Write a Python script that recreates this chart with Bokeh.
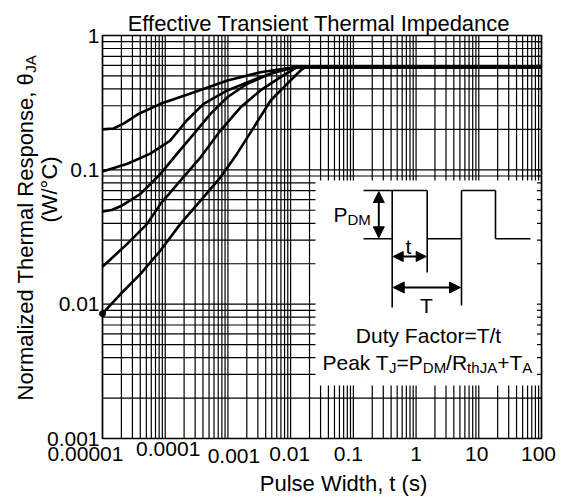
import math
from bokeh.plotting import figure
from bokeh.models import Arrow, NormalHead
from bokeh.core.properties import value
from bokeh.embed import file_html
from bokeh.resources import INLINE

# ---------------- data ----------------
x_tick_values = [1e-5, 1e-4, 1e-3, 1e-2, 1e-1, 1, 10, 100]
x_tick_labels = ["0.00001", "0.0001", "0.001", "0.01", "0.1", "1", "10", "100"]
y_tick_values = [1e-3, 1e-2, 1e-1, 1]
y_tick_labels = ["0.001", "0.01", "0.1", "1"]

c1_t = [1e-5, 1.5e-5, 2.2e-5, 3.6e-5, 8.4e-5, 2.9e-4, 9.8e-4, 3.3e-3, 0.0112, 100]
c1_z = [0.2, 0.203, 0.222, 0.258, 0.31, 0.378, 0.462, 0.533, 0.58, 0.58]

c2_t = [1e-5, 2.5e-5, 5.8e-5, 1.2e-4, 2.2e-4, 4.1e-4, 9.8e-4, 3.3e-3, 8.8e-3, 0.0125, 100]
c2_z = [0.097, 0.111, 0.132, 0.165, 0.233, 0.31, 0.39, 0.49, 0.565, 0.58, 0.58]

c3_t = [1e-5, 1.4e-5, 1.94e-5, 4.04e-5, 8.4e-5, 1.55e-4, 2.86e-4, 5.27e-4, 9.8e-4, 2.03e-3, 5.4e-3, 0.0125, 100]
c3_z = [0.049, 0.0503, 0.0535, 0.0663, 0.0933, 0.132, 0.185, 0.261, 0.347, 0.437, 0.533, 0.58, 0.58]

c4_t = [1e-5, 2.48e-5, 5.15e-5, 8.4e-5, 1.75e-4, 3.66e-4, 7.6e-4, 1.59e-3, 3.3e-3, 6.9e-3, 0.0125, 100]
c4_z = [0.019, 0.0281, 0.0396, 0.0558, 0.0832, 0.124, 0.196, 0.292, 0.39, 0.49, 0.58, 0.58]

c5_t = [1e-5, 1.94e-5, 4.04e-5, 8.4e-5, 1.75e-4, 3.66e-4, 7.6e-4, 1.4e-3, 2.6e-3, 4.8e-3, 8.8e-3, 0.0144, 0.0171, 100]
c5_z = [0.0085, 0.0119, 0.0168, 0.0251, 0.0396, 0.059, 0.088, 0.132, 0.208, 0.328, 0.437, 0.549, 0.58, 0.58]

curves_t = [c1_t, c2_t, c3_t, c4_t, c5_t]
curves_z = [c1_z, c2_z, c3_z, c4_z, c5_z]

# label nudges (style only, pixels)
x_label_dx = [-17, 3, 6, -1, -5, 0, -2, -3]
x_label_dy = [8, 3, 10, 8, 8, 8, 8, 8]

# ---------------- layout ----------------
W_, H_ = 561, 503
FL, FR, FT, FB = 102, 541, 35, 438   # plot-area edges in page pixels
XMIN, XMAX, YMIN, YMAX = 1e-5, 100, 1e-3, 1
FONT = "Liberation Sans"


def X(px):
    return 10 ** (math.log10(XMIN) + (px - FL) / (FR - FL) * (math.log10(XMAX) - math.log10(XMIN)))


def Y(py):
    return 10 ** (math.log10(YMAX) - (py - FT) / (FB - FT) * (math.log10(YMAX) - math.log10(YMIN)))


# the frame covers the whole canvas; the plot area is drawn inside it
p = figure(width=W_, height=H_, x_axis_type="log", y_axis_type="log",
           x_range=(X(0), X(W_)), y_range=(Y(H_), Y(0)),
           x_axis_location=None, y_axis_location=None,
           output_backend="svg", toolbar_location=None, min_border=0)
p.background_fill_color = "white"
p.border_fill_color = "white"
p.outline_line_color = None
p.grid.visible = False

# grid (decade major + 2..9 minor)
x_grid = [m * 10 ** k for k in range(-5, 2) for m in range(1, 10)] + [100]
y_grid = [m * 10 ** k for k in range(-3, 0) for m in range(1, 10)] + [1]
p.segment(x0=x_grid, y0=[YMIN] * len(x_grid), x1=x_grid, y1=[YMAX] * len(x_grid),
          line_color="black", line_width=1.2)
p.segment(x0=[XMIN] * len(y_grid), y0=y_grid, x1=[XMAX] * len(y_grid), y1=y_grid,
          line_color="black", line_width=1.2)

# white inset box
p.quad(left=[X(315)], right=[XMAX], top=[Y(180)], bottom=[Y(385)],
       fill_color="white", line_color=None)
# inward ticks on the right edge
p.segment(x0=[X(FR - 4.5)] * len(y_grid), y0=y_grid, x1=[XMAX] * len(y_grid), y1=y_grid,
          line_color="black", line_width=1.2)
# plot-area outline
p.quad(left=[XMIN], right=[XMAX], top=[YMAX], bottom=[YMIN],
       fill_color=None, line_color="black", line_width=1.6)

# tick labels
p.text(x=x_tick_values, y=[YMIN] * len(x_tick_values), text=x_tick_labels,
       x_offset=x_label_dx, y_offset=x_label_dy,
       text_align="center", text_baseline="top",
       text_font=value(FONT), text_font_size=value("21px"), text_color="black")
p.text(x=[XMIN] * len(y_tick_values), y=y_tick_values, text=y_tick_labels,
       x_offset=-3, y_offset=0, text_align="right", text_baseline="middle",
       text_font=value(FONT), text_font_size=value("21px"), text_color="black")

# curves
for t, z in zip(curves_t, curves_z):
    p.line(t, z, line_color="black", line_width=2.6)
p.scatter([c5_t[0]], [c5_z[0]], size=6, color="black")

# ---------------- text helpers ----------------
CW = {' ': 278, '(': 333, ')': 333, '+': 584, ',': 278, '.': 278, '/': 278, '=': 584,
      '°': 400, 'θ': 556,
      'A': 667, 'C': 722, 'D': 722, 'E': 667, 'F': 611, 'I': 278, 'J': 500, 'M': 833,
      'N': 722, 'P': 667, 'R': 722, 'T': 611, 'W': 944,
      'a': 556, 'c': 500, 'd': 556, 'e': 556, 'f': 278, 'h': 556, 'i': 222, 'k': 500,
      'l': 222, 'm': 833, 'n': 556, 'o': 556, 'p': 556, 'r': 333, 's': 500, 't': 278,
      'u': 556, 'v': 500, 'y': 500, 'z': 500}


def tw(s, size):
    return sum(CW.get(c, 556) for c in s) * size / 1000.0


def lab(px, py, text, size, align="left", baseline="alphabetic", angle=0.0):
    p.text(x=[X(px)], y=[Y(py)], text=[text], angle=angle,
           text_align=align, text_baseline=baseline,
           text_font=value(FONT), text_font_size=value(f"{size}px"), text_color="black")


def rich(pieces, px, py, main=21, sub=15, drop=5):
    for text, is_sub in pieces:
        sz = sub if is_sub else main
        lab(px, py + (drop if is_sub else 0), text, sz)
        px += tw(text, sz)


lab(318.5, 23, "Effective Transient Thermal Impedance", 22, align="center")
lab(343, 483, "Pulse Width, t (s)", 22, align="center")

main_y = "Normalized Thermal Response, θ"
y0 = 400
lab(25, y0, main_y, 22, angle=math.pi / 2)
lab(30, y0 - tw(main_y, 22), "JA", 15, angle=math.pi / 2)
unit_y = "(W/°C)"
lab(49, 189 + tw(unit_y, 22) / 2, unit_y, 22, angle=math.pi / 2)

# ---------------- inset diagram ----------------
top, base = 190, 238.3
e1, e2, e3, e4 = 391.7, 426.7, 461, 495
segs_px = [
    [(363, top), (e2, top)],
    [(363, base), (e1, base)],
    [(e1, top), (e1, 307)],
    [(e2, top), (e2, 272)],
    [(e2, base), (e3, base)],
    [(e3, top), (e3, 305)],
    [(e3, top), (e4, top)],
    [(e4, top), (e4, base)],
    [(e4, base), (530, base)],
]
p.multi_line(xs=[[X(a[0]), X(b[0])] for a, b in segs_px],
             ys=[[Y(a[1]), Y(b[1])] for a, b in segs_px],
             line_color="black", line_width=1.6)


def arrow(x0, y0_, x1, y1, size):
    p.add_layout(Arrow(start=NormalHead(size=size, fill_color="black", line_color="black"),
                       end=NormalHead(size=size, fill_color="black", line_color="black"),
                       x_start=X(x0), y_start=Y(y0_), x_end=X(x1), y_end=Y(y1),
                       line_color="black", line_width=2))


arrow(378.3, top + 1, 378.3, base - 1, 11)
arrow(e1 + 1, 256, e2 - 1, 256, 10)
arrow(e1 + 1, 287, e3 - 1, 287, 11)

rich([("P", False), ("DM", True)], 333, 214)
lab(408, 246, "t", 21, align="center")
lab(426, 305, "T", 21, align="center")
lab(428, 335, "Duty Factor=T/t", 21, align="center")
rich([("Peak T", False), ("J", True), ("=P", False), ("DM", True), ("/R", False),
      ("thJA", True), ("+T", False), ("A", True)], 322, 362)

open("out.html", "w").write(file_html(p, INLINE))
